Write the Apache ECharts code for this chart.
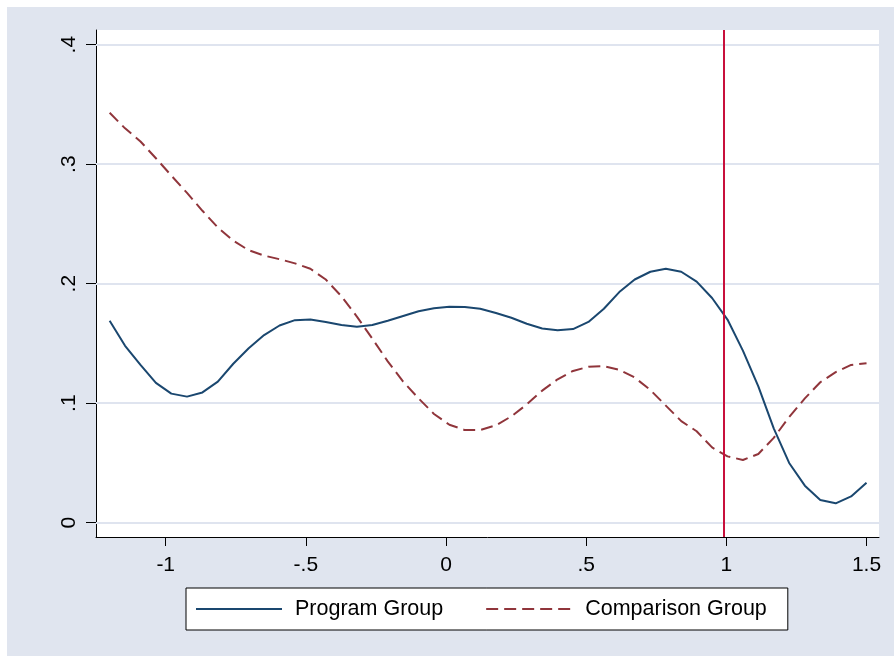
<!DOCTYPE html>
<html>
<head>
<meta charset="utf-8">
<script src="https://cdn.jsdelivr.net/npm/echarts@6/dist/echarts.min.js"></script>
<style>
html,body{margin:0;padding:0;background:#fff;}
#c{width:894px;height:656px;}
</style>
</head>
<body>
<div id="c"></div>
<script>
// Kernel density grid (x) and estimated densities
var xs = [-1.200,-1.145,-1.090,-1.035,-0.980,-0.924,-0.869,-0.814,-0.759,-0.704,
          -0.649,-0.594,-0.539,-0.484,-0.429,-0.373,-0.318,-0.263,-0.208,-0.153,
          -0.098,-0.043,0.012,0.067,0.122,0.178,0.233,0.288,0.343,0.398,
          0.453,0.508,0.563,0.618,0.673,0.729,0.784,0.839,0.894,0.949,
          1.004,1.059,1.114,1.169,1.224,1.280,1.335,1.390,1.445,1.500];
var programGroup = [0.169,0.148,0.132,0.117,0.108,0.1055,0.109,0.118,0.133,0.146,
          0.157,0.165,0.1695,0.170,0.168,0.1655,0.164,0.1655,0.169,0.173,
          0.177,0.1795,0.1808,0.1805,0.179,0.1755,0.1715,0.1665,0.1625,0.161,
          0.162,0.168,0.179,0.193,0.2035,0.210,0.2125,0.210,0.2017,0.188,
          0.170,0.144,0.114,0.079,0.050,0.031,0.019,0.0162,0.022,0.0335];
var comparisonGroup = [0.343,0.330,0.319,0.305,0.2905,0.276,0.261,0.247,0.236,0.228,
          0.2235,0.2205,0.217,0.2125,0.2035,0.1895,0.1725,0.154,0.135,0.118,
          0.104,0.091,0.082,0.0775,0.0775,0.0815,0.089,0.099,0.1105,0.120,
          0.127,0.1305,0.131,0.128,0.1215,0.111,0.098,0.085,0.0765,0.063,
          0.0555,0.0525,0.0575,0.071,0.0885,0.104,0.1175,0.126,0.132,0.1334];
var seriesNames = ['Program Group', 'Comparison Group'];
var xTickValues = [-1, -0.5, 0, 0.5, 1, 1.5];
var xTickLabels = ['-1', '-.5', '0', '.5', '1', '1.5'];
var yTickValues = [0, 0.1, 0.2, 0.3, 0.4];
var yTickLabels = ['0', '.1', '.2', '.3', '.4'];
var cutoff = [0.99];

function pairs(x, y){ return x.map(function(v,i){ return [v, y[i]]; }); }
function lab(vals, labels){
  return function(v){
    for (var i=0;i<vals.length;i++){ if (Math.abs(vals[i]-v) < 1e-9) return labels[i]; }
    return '';
  };
}

var FONT = 'Liberation Sans, Arial, sans-serif';
var chart = echarts.init(document.getElementById('c'), null, {renderer:'canvas'});
chart.setOption({
  backgroundColor: '#ffffff',
  animation: false,
  graphic: [
    {type:'rect', z:-10, shape:{x:7, y:7, width:887, height:649}, style:{fill:'#e0e5ef'}, silent:true},
    {type:'rect', z:-9, shape:{x:96, y:30, width:783, height:507}, style:{fill:'#ffffff'}, silent:true}
  ],
  grid: {left:96, top:30, width:783, height:507, containLabel:false},
  legend: {
    left: 186, top: 588,
    orient: 'horizontal',
    backgroundColor: '#ffffff',
    borderColor: '#000000',
    borderWidth: 1,
    padding: [10, 21, 10, 9],
    itemGap: 42,
    itemWidth: 86,
    itemHeight: 20,
    itemStyle: {opacity: 0},
    textStyle: {fontFamily: FONT, fontSize: 21.5, color: '#000', padding:[0,0,0,8]},
    data: seriesNames
  },
  xAxis: {
    type: 'value',
    min: -1.2487, max: 1.5445,
    splitLine: {show:false},
    axisLine: {show:true, onZero:false, lineStyle:{color:'#000', width:1}},
    axisTick: {show:true, length:9, customValues: xTickValues, lineStyle:{color:'#000', width:1}},
    axisLabel: {show:true, customValues: xTickValues, formatter: lab(xTickValues, xTickLabels),
                fontFamily: FONT, fontSize: 21, color:'#000', margin: 18}
  },
  yAxis: {
    type: 'value',
    min: -0.01197, max: 0.4123,
    splitLine: {show:false},
    axisLine: {show:true, onZero:false, lineStyle:{color:'#000', width:1}},
    axisTick: {show:true, length:10, customValues: yTickValues, lineStyle:{color:'#000', width:1}},
    axisLabel: {show:true, customValues: yTickValues, formatter: lab(yTickValues, yTickLabels),
                rotate: 90, fontFamily: FONT, fontSize: 21, color:'#000', margin: 16}
  },
  series: [
    {
      name: seriesNames[0], type:'line', data: pairs(xs, programGroup),
      symbol:'none', smooth:false, z:3,
      lineStyle:{color:'#1a476f', width:2},
      itemStyle:{color:'#1a476f'},
      markLine: {
        silent:true, symbol:'none', animation:false, z:1,
        label:{show:false},
        lineStyle:{color:'#dfe4ef', width:2, type:'solid'},
        data: yTickValues.map(function(v){ return {yAxis:v}; })
      }
    },
    {
      name: seriesNames[1], type:'line', data: pairs(xs, comparisonGroup),
      symbol:'none', smooth:false, z:3,
      lineStyle:{color:'#90353b', width:2, type:[12,6]},
      itemStyle:{color:'#90353b'},
      markLine: {
        silent:true, symbol:'none', animation:false, z:5,
        label:{show:false},
        lineStyle:{color:'#c8103c', width:2, type:'solid'},
        data: cutoff.map(function(v){ return {xAxis:v}; })
      }
    }
  ]
});
</script>
</body>
</html>
